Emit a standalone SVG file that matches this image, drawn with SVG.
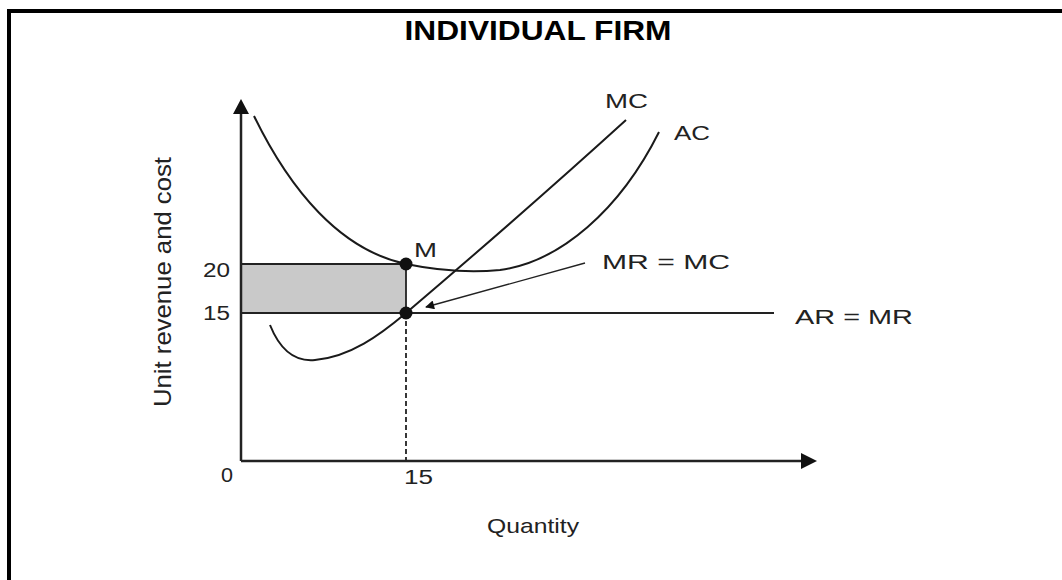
<svg xmlns="http://www.w3.org/2000/svg" width="1062" height="580" viewBox="0 0 1062 580">
<style>
.lbl{font-family:"Liberation Sans",Arial,sans-serif;font-size:20px;fill:#222}
.curve{fill:none;stroke:#1a1a1a;stroke-width:2}
.axis{fill:none;stroke:#222;stroke-width:2.5}
.guide{fill:none;stroke:#222;stroke-width:1.8}
</style>
<defs>
<marker id="ah" viewBox="0 0 10 10" refX="9" refY="5" markerWidth="12" markerHeight="9" markerUnits="userSpaceOnUse" orient="auto">
<path d="M0,0 L10,5 L0,10 z" fill="#111"/>
</marker>
</defs>
<rect width="1062" height="580" fill="#fff"/>
<path d="M9,580 V11 H1062" fill="none" stroke="#000" stroke-width="4"/>
<text x="538" y="40" text-anchor="middle" font-family="'Liberation Sans',Arial,sans-serif" font-weight="bold" font-size="28" textLength="267" lengthAdjust="spacingAndGlyphs" fill="#000">INDIVIDUAL FIRM</text>

<g id="shaded-area">
<rect x="241" y="264" width="165" height="49" fill="#c9c9c9"/>
</g>

<g id="axes">
<line class="axis" x1="241" y1="461" x2="241" y2="110"/>
<path d="M241,99 L233,114 L249,114 z" fill="#111"/>
<line class="axis" x1="241" y1="461" x2="802" y2="461"/>
<path d="M817,461 L801,453 L801,469 z" fill="#111"/>
</g>

<g id="connectors">
<line class="guide" x1="241" y1="264" x2="406" y2="264"/>
<line class="guide" x1="241" y1="313" x2="774" y2="313"/>
<line class="guide" x1="406" y1="264" x2="406" y2="313"/>
<line class="guide" x1="406" y1="313" x2="406" y2="461" stroke-dasharray="5,3"/>
<line x1="585" y1="263" x2="426" y2="307" stroke="#222" stroke-width="1.3" marker-end="url(#ah)"/>
</g>

<g id="ac-curve">
<path class="curve" d="M254,116 C290,190 340,250 406,264 C440,271 470,273 500,270 C560,262 620,210 659,132"/>
</g>
<g id="mc-curve">
<path class="curve" d="M270,325 C280,350 295,362 315,360 C350,357 380,335 406,313 C480,250 560,180 626,120"/>
</g>

<g id="point-M">
<circle cx="406" cy="264" r="6.5" fill="#111"/>
</g>
<g id="point-eq">
<circle cx="406" cy="313" r="6.5" fill="#111"/>
</g>

<g id="labels">
<text class="lbl" x="605" y="108" textLength="43" lengthAdjust="spacingAndGlyphs">MC</text>
<text class="lbl" x="674" y="140" textLength="36" lengthAdjust="spacingAndGlyphs">AC</text>
<text class="lbl" x="414" y="257" textLength="23" lengthAdjust="spacingAndGlyphs">M</text>
<text class="lbl" x="602" y="269" textLength="128" lengthAdjust="spacingAndGlyphs">MR = MC</text>
<text class="lbl" x="795" y="324" textLength="118" lengthAdjust="spacingAndGlyphs">AR = MR</text>
<text class="lbl" x="203" y="277" textLength="27" lengthAdjust="spacingAndGlyphs">20</text>
<text class="lbl" x="203" y="320" textLength="27" lengthAdjust="spacingAndGlyphs">15</text>
<text class="lbl" x="221" y="482" textLength="12" lengthAdjust="spacingAndGlyphs">0</text>
<text class="lbl" x="404" y="484" textLength="29" lengthAdjust="spacingAndGlyphs">15</text>
<text class="lbl" x="487" y="533" style="font-size:21px" textLength="92" lengthAdjust="spacingAndGlyphs">Quantity</text>
<text class="lbl" transform="translate(171,282) rotate(-90)" text-anchor="middle" style="font-size:24px" textLength="250" lengthAdjust="spacingAndGlyphs">Unit revenue and cost</text>
</g>
</svg>
